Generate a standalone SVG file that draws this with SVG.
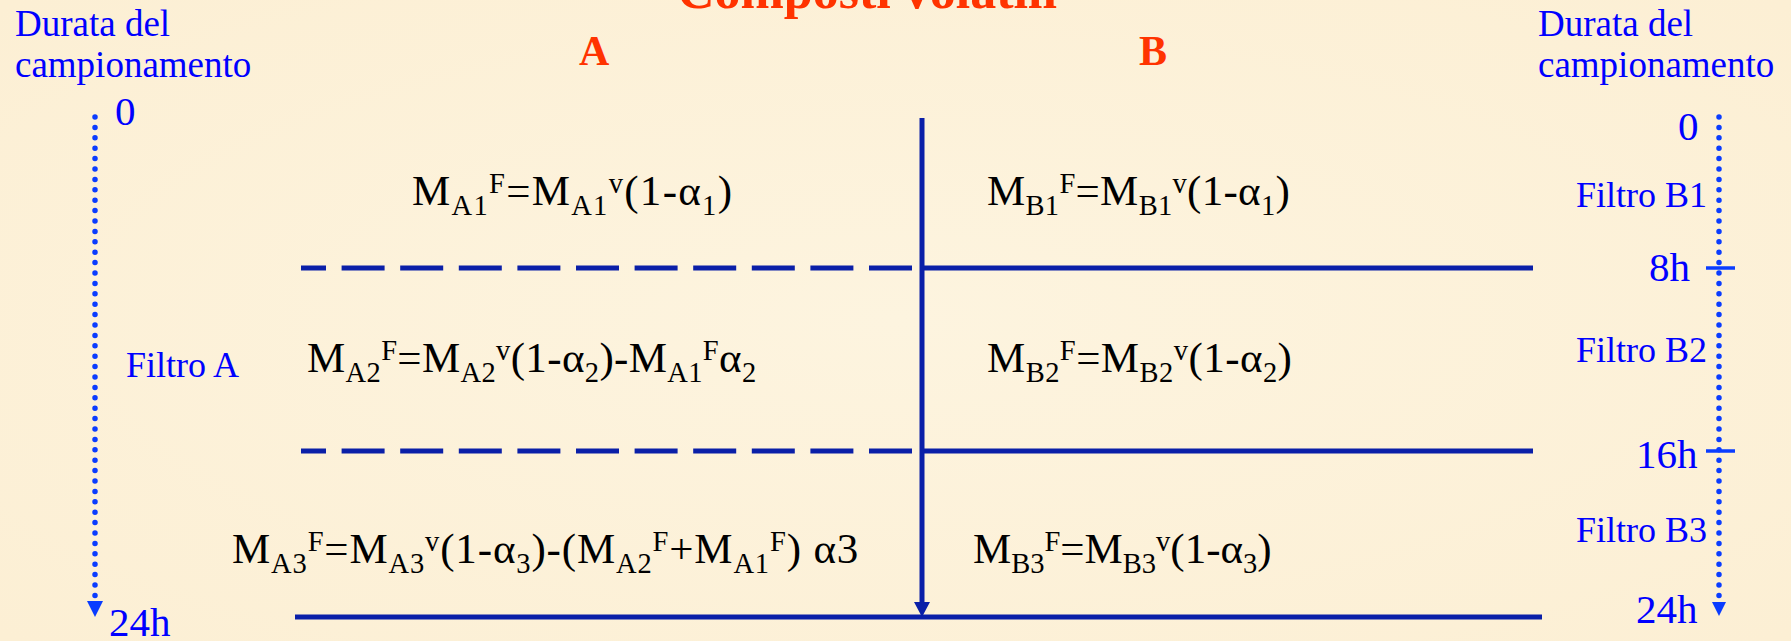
<svg xmlns="http://www.w3.org/2000/svg" width="1791" height="641" viewBox="0 0 1791 641">
<defs>
<style>
.lbl{font-family:"Liberation Serif","Times New Roman",serif;fill:#0000ff}
.lbl37{font-size:37px}
.lbl36{font-size:36px}
.lbl41{font-size:41px}
.red{font-family:"Liberation Serif","Times New Roman",serif;font-weight:bold;fill:#ff3300}
.f{font-family:"Liberation Serif","Times New Roman",serif;font-size:43px;fill:#000}
.s{font-size:28.5px}
.solid{stroke:#0a1fa8;stroke-width:5;fill:none}
.dash{stroke:#0a1fa8;stroke-width:5;fill:none;stroke-dasharray:43 15.6;stroke-dashoffset:18}
.dot{stroke:#0a3cff;stroke-width:5.5;stroke-linecap:round;stroke-dasharray:0 10.4;fill:none}
.tick{stroke:#0a3cff;stroke-width:3.5}
.ahd{fill:#0a1fa8}
.ahb{fill:#0a3cff}
</style>
<radialGradient id="g1" cx="0.5" cy="0.5" r="0.7">
<stop offset="0" stop-color="#fdf4df"/>
<stop offset="1" stop-color="#fcefd4"/>
</radialGradient>
</defs>
<rect x="0" y="0" width="1791" height="641" fill="url(#g1)"/>

<g id="title">
<text class="red" x="677" y="8" font-size="52">Composti volatili</text>
</g>
<g id="col-A"><text class="red" x="579" y="65" font-size="42">A</text></g>
<g id="col-B"><text class="red" x="1139" y="65" font-size="42">B</text></g>

<g id="axis-left">
<text class="lbl lbl37" x="15" y="36">Durata del</text>
<text class="lbl lbl37" x="15" y="77">campionamento</text>
<text class="lbl lbl41" x="115" y="125">0</text>
<text class="lbl lbl41" x="109" y="636">24h</text>
<text class="lbl lbl36" x="126" y="377">Filtro A</text>
</g>

<g id="axis-right">
<text class="lbl lbl37" x="1538" y="36">Durata del</text>
<text class="lbl lbl37" x="1538" y="77">campionamento</text>
<text class="lbl lbl41" x="1678" y="140">0</text>
<text class="lbl lbl36" x="1576" y="207">Filtro B1</text>
<text class="lbl lbl41" x="1649" y="281">8h</text>
<text class="lbl lbl36" x="1576" y="362">Filtro B2</text>
<text class="lbl lbl41" x="1636" y="468">16h</text>
<text class="lbl lbl36" x="1576" y="542">Filtro B3</text>
<text class="lbl lbl41" x="1636" y="623">24h</text>
</g>

<g id="eq-A1"><text class="f" x="412" y="205" letter-spacing="1.3">M<tspan class="s" dy="10">A1</tspan><tspan class="s" dy="-22">F</tspan><tspan dy="12">=M</tspan><tspan class="s" dy="10">A1</tspan><tspan class="s" dy="-22">v</tspan><tspan dy="12">(1-α</tspan><tspan class="s" dy="10">1</tspan><tspan dy="-10">)</tspan></text></g>

<g id="eq-A2"><text class="f" x="307" y="372" letter-spacing="0.35">M<tspan class="s" dy="10">A2</tspan><tspan class="s" dy="-22">F</tspan><tspan dy="12">=M</tspan><tspan class="s" dy="10">A2</tspan><tspan class="s" dy="-22">v</tspan><tspan dy="12">(1-α</tspan><tspan class="s" dy="10">2</tspan><tspan dy="-10">)-M</tspan><tspan class="s" dy="10">A1</tspan><tspan class="s" dy="-22">F</tspan><tspan dy="12">α</tspan><tspan class="s" dy="10">2</tspan></text></g>

<g id="eq-A3"><text class="f" x="232" y="563" letter-spacing="0.85">M<tspan class="s" dy="10">A3</tspan><tspan class="s" dy="-22">F</tspan><tspan dy="12">=M</tspan><tspan class="s" dy="10">A3</tspan><tspan class="s" dy="-22">v</tspan><tspan dy="12">(1-α</tspan><tspan class="s" dy="10">3</tspan><tspan dy="-10">)-(M</tspan><tspan class="s" dy="10">A2</tspan><tspan class="s" dy="-22">F</tspan><tspan dy="12">+M</tspan><tspan class="s" dy="10">A1</tspan><tspan class="s" dy="-22">F</tspan><tspan dy="12">) α3</tspan></text></g>

<g id="eq-B1"><text class="f" x="987" y="205" letter-spacing="0.3">M<tspan class="s" dy="10">B1</tspan><tspan class="s" dy="-22">F</tspan><tspan dy="12">=M</tspan><tspan class="s" dy="10">B1</tspan><tspan class="s" dy="-22">v</tspan><tspan dy="12">(1-α</tspan><tspan class="s" dy="10">1</tspan><tspan dy="-10">)</tspan></text></g>

<g id="eq-B2"><text class="f" x="987" y="372" letter-spacing="0.45">M<tspan class="s" dy="10">B2</tspan><tspan class="s" dy="-22">F</tspan><tspan dy="12">=M</tspan><tspan class="s" dy="10">B2</tspan><tspan class="s" dy="-22">v</tspan><tspan dy="12">(1-α</tspan><tspan class="s" dy="10">2</tspan><tspan dy="-10">)</tspan></text></g>

<g id="eq-B3"><text class="f" x="973" y="563">M<tspan class="s" dy="10">B3</tspan><tspan class="s" dy="-22">F</tspan><tspan dy="12">=M</tspan><tspan class="s" dy="10">B3</tspan><tspan class="s" dy="-22">v</tspan><tspan dy="12">(1-α</tspan><tspan class="s" dy="10">3</tspan><tspan dy="-10">)</tspan></text></g>

<g id="connectors">
<line class="dash" x1="301" y1="268" x2="914" y2="268"/>
<line class="solid" x1="924" y1="268" x2="1533" y2="268"/>
<line class="dash" x1="301" y1="451" x2="914" y2="451"/>
<line class="solid" x1="924" y1="451" x2="1533" y2="451"/>
<line class="solid" x1="295" y1="617" x2="1542" y2="617"/>
<line class="solid" x1="922" y1="118" x2="922" y2="604"/>
<polygon class="ahd" points="914,602 930,602 922,617"/>
<line class="dot" x1="95" y1="117" x2="95" y2="598"/>
<polygon class="ahb" points="87,601 103,601 95,617"/>
<line class="dot" x1="1719" y1="117" x2="1719" y2="600"/>
<polygon class="ahb" points="1712,602 1726,602 1719,616"/>
<line class="tick" x1="1706" y1="268" x2="1735" y2="268"/>
<line class="tick" x1="1706" y1="451" x2="1735" y2="451"/>
</g>
</svg>
